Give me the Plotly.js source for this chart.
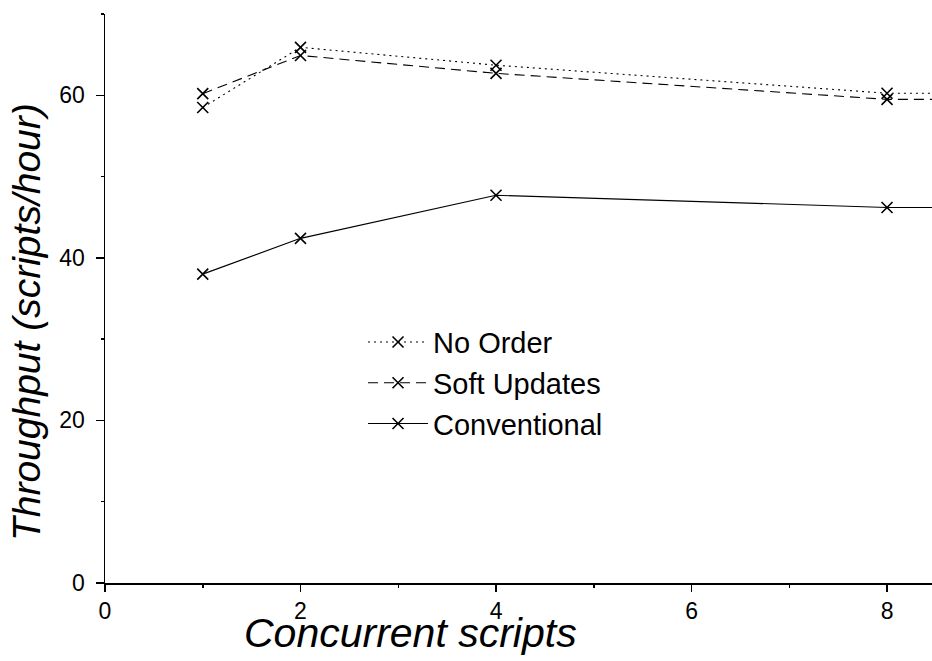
<!DOCTYPE html>
<html>
<head>
<meta charset="utf-8">
<script src="https://cdn.plot.ly/plotly-3.0.1.min.js"></script>
<style>html,body{margin:0;padding:0;background:#fff;}#chart{width:932px;height:661px;}</style>
</head>
<body>
<div id="chart"></div>
<script>
const concurrentScripts = [1, 2, 4, 8, 16];
const noOrder = [58.5, 65.9, 63.7, 60.25, 60.2];
const softUpdates = [60.2, 64.9, 62.7, 59.5, 59.4];
const conventional = [38.0, 42.4, 47.7, 46.2, 46.1];
const seriesNames = ['No Order', 'Soft Updates', 'Conventional'];
const xTitle = 'Concurrent scripts';
const yTitle = 'Throughput (scripts/hour)';

const FONT = 'Liberation Sans, Arial, sans-serif';
const marker = {symbol: 'x-thin-open', size: 11, color: '#000', line: {color: '#000', width: 1.6}};

const traces = [
  {x: concurrentScripts, y: noOrder, name: seriesNames[0], mode: 'lines+markers',
   line: {color: '#000', width: 1.1, dash: '2px,4px'}, marker: marker},
  {x: concurrentScripts, y: softUpdates, name: seriesNames[1], mode: 'lines+markers',
   line: {color: '#000', width: 1.1, dash: '10px,6px'}, marker: marker},
  {x: concurrentScripts, y: conventional, name: seriesNames[2], mode: 'lines+markers',
   line: {color: '#000', width: 1.1}, marker: marker}
];

const tickFont = {size: 23, family: FONT, color: '#000'};

const layout = {
  width: 932, height: 661,
  margin: {l: 105, r: 0, t: 14, b: 78},
  paper_bgcolor: '#fff', plot_bgcolor: '#fff',
  font: {family: FONT, color: '#000', size: 23},
  showlegend: true,
  legend: {x: 0.312, y: 0.468, xanchor: 'left', yanchor: 'top', bgcolor: 'rgba(0,0,0,0)',
           font: {size: 29, family: FONT, color: '#000'}, itemwidth: 60, tracegroupgap: 0},
  xaxis: {range: [0, 8.46], showgrid: false, zeroline: false, showline: true, linecolor: '#000', linewidth: 1.5,
          ticks: 'outside', ticklen: 7, tickwidth: 1.5, tickcolor: '#000', dtick: 2, tick0: 0,
          tickfont: tickFont,
          minor: {ticks: 'outside', ticklen: 3, dtick: 1, tickcolor: '#000', tickwidth: 1.5, showgrid: false}},
  yaxis: {range: [0, 70], showgrid: false, zeroline: false, showline: true, linecolor: '#000', linewidth: 1.5,
          ticks: 'outside', ticklen: 8, tickwidth: 1.5, tickcolor: '#000', dtick: 20, tick0: 0,
          tickfont: tickFont, ticklabelstandoff: 6,
          minor: {ticks: 'outside', ticklen: 3, dtick: 10, tickcolor: '#000', tickwidth: 1.5, showgrid: false}},
  annotations: [
    {text: xTitle, xref: 'paper', yref: 'paper', x: 0.37, y: -0.087, xanchor: 'center', yanchor: 'middle',
     showarrow: false, font: {size: 41, family: FONT, style: 'italic', color: '#000'}},
    {text: yTitle, xref: 'paper', yref: 'paper', x: -0.094, y: 0.459, xanchor: 'center', yanchor: 'middle',
     textangle: -90, showarrow: false, font: {size: 39, family: FONT, style: 'italic', color: '#000'}}
  ]
};

Plotly.newPlot('chart', traces, layout, {displayModeBar: false, staticPlot: true});
</script>
</body>
</html>
